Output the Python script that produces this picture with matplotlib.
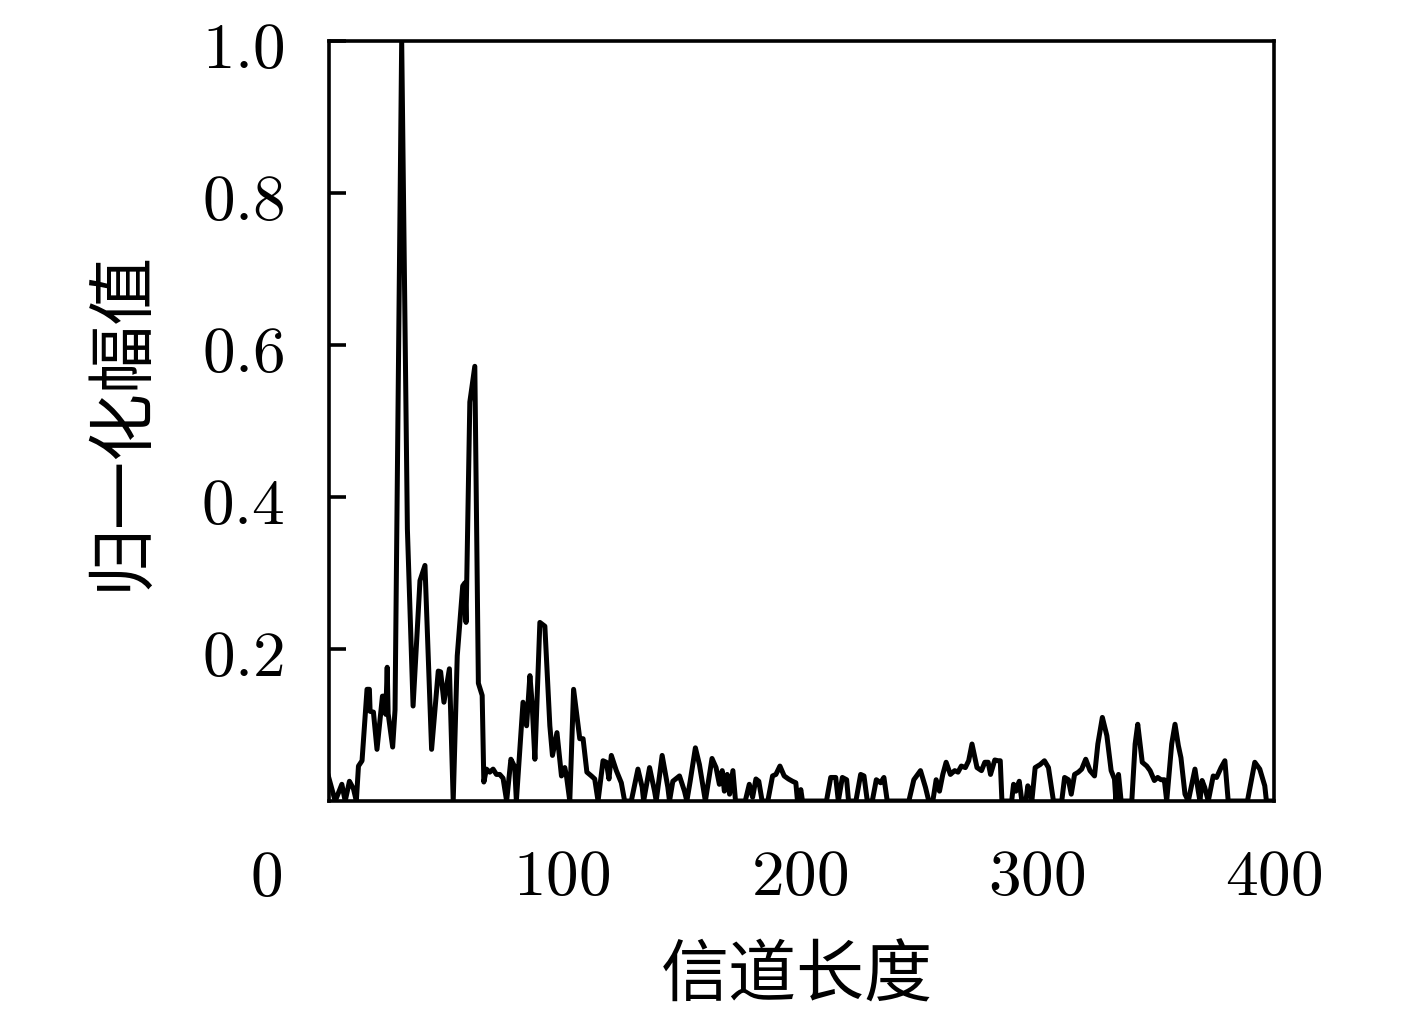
import matplotlib
matplotlib.use('Agg')
import matplotlib.pyplot as plt

plt.rcParams['mathtext.fontset'] = 'cm'
plt.rcParams['font.family'] = ['Noto Sans CJK SC', 'DejaVu Sans']

# 信道长度 (channel index) and normalised amplitude
pos = [1.7, 4.6, 7.4, 8.8, 10.6, 12.3, 13.5, 14.4, 15.9, 18, 19, 19.3, 20.7, 22.2,
       24.5, 25.5, 25.9, 26.5, 26.9, 28.8, 29.8, 32.6, 35, 37.4, 40.3, 42.4, 45.2,
       48, 49, 50.4, 52.7, 54.3, 56, 58.3, 59.2, 59.7, 61.3, 63.4, 64.9, 66.5, 67.2,
       68.3, 69.7, 71.1, 72.5, 73.9, 75.3, 76.8, 78.6, 80.2, 80.9, 83.7, 85.2, 86.6,
       87.5, 88.7, 90.8, 92.9, 95, 96.1, 98, 99.9, 101.3, 102, 103.4, 105, 107.6,
       109, 110.6, 112.5, 113.9, 115.3, 117.4, 118.8, 119.9, 120.9, 123, 125.1,
       126.5, 129.3, 132.1, 133.9, 134.5, 137, 139.1, 139.8, 142.3, 144.7, 145.4,
       146.8, 149.6, 151.7, 152.7, 154.1, 156.3, 158, 159.7, 160.5, 163.3, 165,
       166.4, 167.6, 168.5, 169.7, 170.7, 172.1, 173.2, 177.3, 179, 180.4, 181.8,
       183, 184.4, 186.8, 188.8, 190.2, 191.9, 193.7, 195.5, 197.2, 198.6, 199.3,
       200.7, 201.4, 211.5, 213.3, 215.4, 216.5, 218.2, 220, 220.8, 223.9, 225.9,
       227.3, 228.7, 230.8, 232.5, 234.3, 235.7, 237.1, 246.2, 248.3, 251.1, 253.2,
       254.6, 256.3, 257.7, 259.1, 260.5, 261.9, 263.7, 265.5, 266.9, 268.3, 270,
       271.4, 272.8, 274.9, 276.8, 278.2, 279.6, 280.6, 282.4, 283.8, 284.7, 285.4,
       289.5, 290.3, 291.3, 292.7, 293.8, 295.5, 296.3, 297.3, 298, 299.4, 301.5,
       303.3, 305, 307.1, 310.6, 311.8, 313.4, 314.6, 316, 317.6, 319, 320.7, 322.5,
       324.4, 325.8, 327.7, 329.6, 331.4, 332.8, 333.4, 334.5, 335.6, 340.1, 341.5,
       342.6, 343.6, 344.5, 346.4, 347.8, 349.6, 351, 352.4, 353.8, 354.8, 356.9,
       358.3, 359.7, 360.8, 362.5, 363.9, 366.7, 368.1, 368.8, 369.7, 370.8, 372.3,
       374.4, 375.8, 377.7, 379.3, 380.7, 388.8, 391.9, 394, 396.1, 396.8, 399.2]
amp = [0.033, 0, 0.022, 0, 0.026, 0.016, 0, 0.046, 0.053, 0.147, 0.147, 0.118, 0.117,
       0.068, 0.138, 0.138, 0.114, 0.176, 0.115, 0.071, 0.12, 1.0, 0.358, 0.125, 0.29,
       0.31, 0.068, 0.171, 0.17, 0.13, 0.174, 0, 0.191, 0.283, 0.287, 0.235, 0.525,
       0.572, 0.155, 0.139, 0.025, 0.042, 0.038, 0.042, 0.035, 0.035, 0.03, 0, 0.055,
       0.045, 0, 0.13, 0.099, 0.165, 0.13, 0.055, 0.235, 0.23, 0.099, 0.06, 0.09,
       0.033, 0.044, 0.033, 0, 0.147, 0.082, 0.082, 0.038, 0.033, 0.029, 0, 0.053,
       0.051, 0.029, 0.06, 0.04, 0.024, 0, 0, 0.042, 0.018, 0, 0.044, 0.013, 0, 0.06,
       0.018, 0, 0.026, 0.033, 0.013, 0, 0.026, 0.07, 0.048, 0.015, 0, 0.056, 0.044,
       0.022, 0.04, 0.013, 0.035, 0.009, 0.04, 0, 0, 0.022, 0.005, 0.029, 0.026, 0,
       0, 0.033, 0.035, 0.046, 0.033, 0.029, 0.026, 0.024, 0, 0.015, 0, 0, 0.031,
       0.031, 0, 0.031, 0.028, 0, 0, 0.035, 0.033, 0, 0, 0.028, 0.024, 0.031, 0, 0,
       0.028, 0.04, 0.018, 0, 0, 0.028, 0.013, 0.035, 0.051, 0.035, 0.04, 0.038,
       0.046, 0.044, 0.053, 0.075, 0.044, 0.04, 0.051, 0.051, 0.035, 0.054, 0.053,
       0.053, 0, 0, 0.022, 0.013, 0.026, 0, 0, 0.02, 0.013, 0, 0.044, 0.048, 0.053,
       0.044, 0, 0, 0.031, 0.028, 0.009, 0.035, 0.038, 0.042, 0.055, 0.04, 0.033,
       0.075, 0.11, 0.086, 0.04, 0.029, 0, 0.035, 0, 0, 0.075, 0.101, 0.075, 0.051,
       0.046, 0.04, 0.027, 0.031, 0.028, 0.028, 0, 0.075, 0.101, 0.073, 0.057, 0.009,
       0, 0.042, 0.013, 0, 0.027, 0.018, 0, 0.033, 0.031, 0.044, 0.053, 0, 0, 0.051,
       0.042, 0.02, 0, 0]

xticks = [100, 200, 300, 400]
yticks = [0.2, 0.4, 0.6, 0.8, 1.0]

fig = plt.figure(figsize=(14.17, 10.2), dpi=100)
ax = fig.add_axes([0.2322, 0.2137, 0.6669, 0.7451])

ax.plot(pos, amp, color='black', linewidth=3.6)

ax.set_xlim(2, 400)
ax.set_ylim(0, 1)
ax.set_xticks(xticks)
ax.set_xticklabels(['$%d$' % t for t in xticks])
ax.set_yticks(yticks)
ax.set_yticklabels(['$%.1f$' % t for t in yticks])
ax.tick_params(axis='x', length=0, pad=30, labelsize=47)
ax.tick_params(axis='y', direction='in', length=12, width=2.6, pad=32, labelsize=47)
for s in ax.spines.values():
    s.set_linewidth(2.6)

# origin label sits apart from the axis
fig.text(266 / 1417, 1 - 878 / 1020, '$0$', fontsize=47, ha='center', va='center')

fig.text(797 / 1417, 1 - 978 / 1020, '信道长度', fontsize=49, ha='center', va='center')
fig.text(122 / 1417, 1 - 420 / 1020, '归一化幅值', fontsize=49, ha='center', va='center',
         rotation=90)

fig.savefig('out.png', dpi=100)
